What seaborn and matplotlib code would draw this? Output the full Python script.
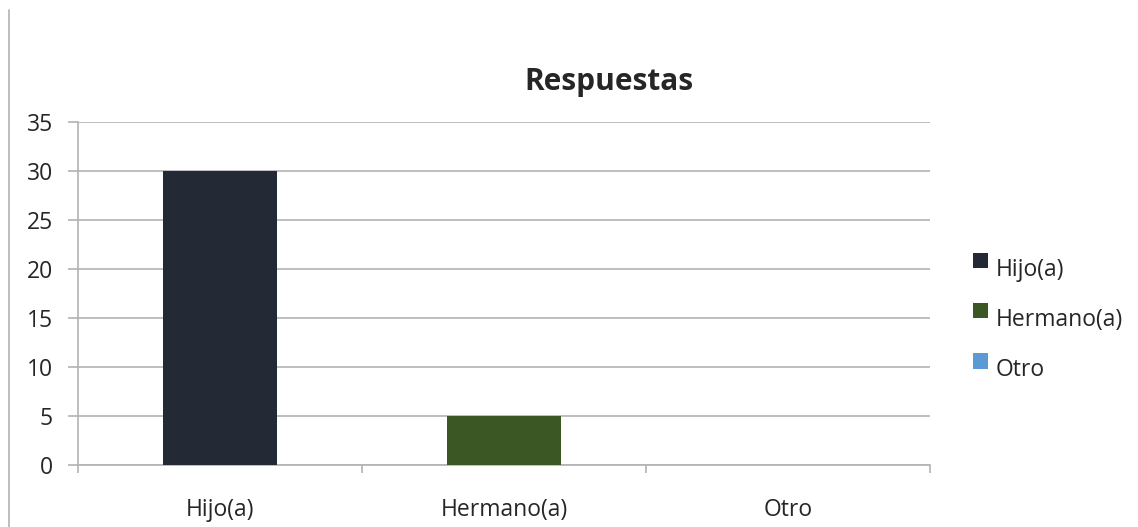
import numpy as np
import pandas as pd
import matplotlib
matplotlib.use('Agg')
import matplotlib.pyplot as plt
from matplotlib.patches import Patch, Rectangle
from matplotlib.lines import Line2D
from matplotlib.legend_handler import HandlerPatch
import seaborn as sns

categorias = ['Hijo(a)', 'Hermano(a)', 'Otro']
respuestas = [30, 5, 0]
colores = ['#232A35', '#3B5724', '#5B9BD5']
y_ticks = [0, 5, 10, 15, 20, 25, 30, 35]

sns.set_style('white')
plt.rcParams['font.family'] = ['Open Sans', 'DejaVu Sans']


# legend square sits a bit higher than the text, like in Excel
class SquareHandler(HandlerPatch):
    def create_artists(self, legend, orig_handle, xdescent, ydescent,
                       width, height, fontsize, trans):
        r = Rectangle((-xdescent, -ydescent + 0.32 * fontsize), width, height,
                      facecolor=orig_handle.get_facecolor(), edgecolor='none',
                      transform=trans)
        return [r]


df = pd.DataFrame({'categoria': categorias, 'respuestas': respuestas})

fig = plt.figure(figsize=(11.38, 5.27), dpi=100)
ax = fig.add_axes([78/1138, 1 - 465/527, (930 - 78)/1138, (465 - 122)/527])

sns.barplot(data=df, x='categoria', y='respuestas', hue='categoria',
            palette=colores, width=0.4, legend=False, ax=ax, zorder=3,
            linewidth=0, saturation=1)

grid_color = '#B3B3B3'
ax.set_ylim(0, 35)
ax.set_xlim(-0.5, 2.5)
ax.set_yticks(y_ticks)
ax.yaxis.grid(True, color=grid_color, linewidth=1.2, zorder=0)
ax.set_xlabel('')
ax.set_ylabel('')

for s in ['top', 'right']:
    ax.spines[s].set_visible(False)
for s in ['left', 'bottom']:
    ax.spines[s].set_color(grid_color)
    ax.spines[s].set_linewidth(1.2)

ax.tick_params(axis='y', which='major', length=7, width=1.2, color=grid_color,
               pad=11, labelsize=16.5, left=True)
ax.tick_params(axis='x', which='major', length=0, pad=24, labelsize=16.5)
ax.set_xticks(np.arange(-0.5, 3, 1), minor=True)
ax.tick_params(axis='x', which='minor', length=6, width=1.2, color=grid_color, bottom=True)

fig.text(609/1138, 1 - 82/527, 'Respuestas', ha='center', va='center',
         fontsize=21.5, fontweight='bold')

handles = [Patch(facecolor=c, edgecolor='none', label=l) for c, l in zip(colores, categorias)]
fig.legend(handles=handles, loc='center left', bbox_to_anchor=(952/1138, 1 - 320/527),
           frameon=False, fontsize=16.5, handlelength=0.65, handleheight=0.65,
           handletextpad=0.35, labelspacing=1.15,
           handler_map={Patch: SquareHandler()})

fig.add_artist(Line2D([8.5/1138, 8.5/1138], [0, 1 - 10/527], color=grid_color,
                      linewidth=1.2, transform=fig.transFigure))

fig.savefig('out.png', dpi=100, facecolor='white')
